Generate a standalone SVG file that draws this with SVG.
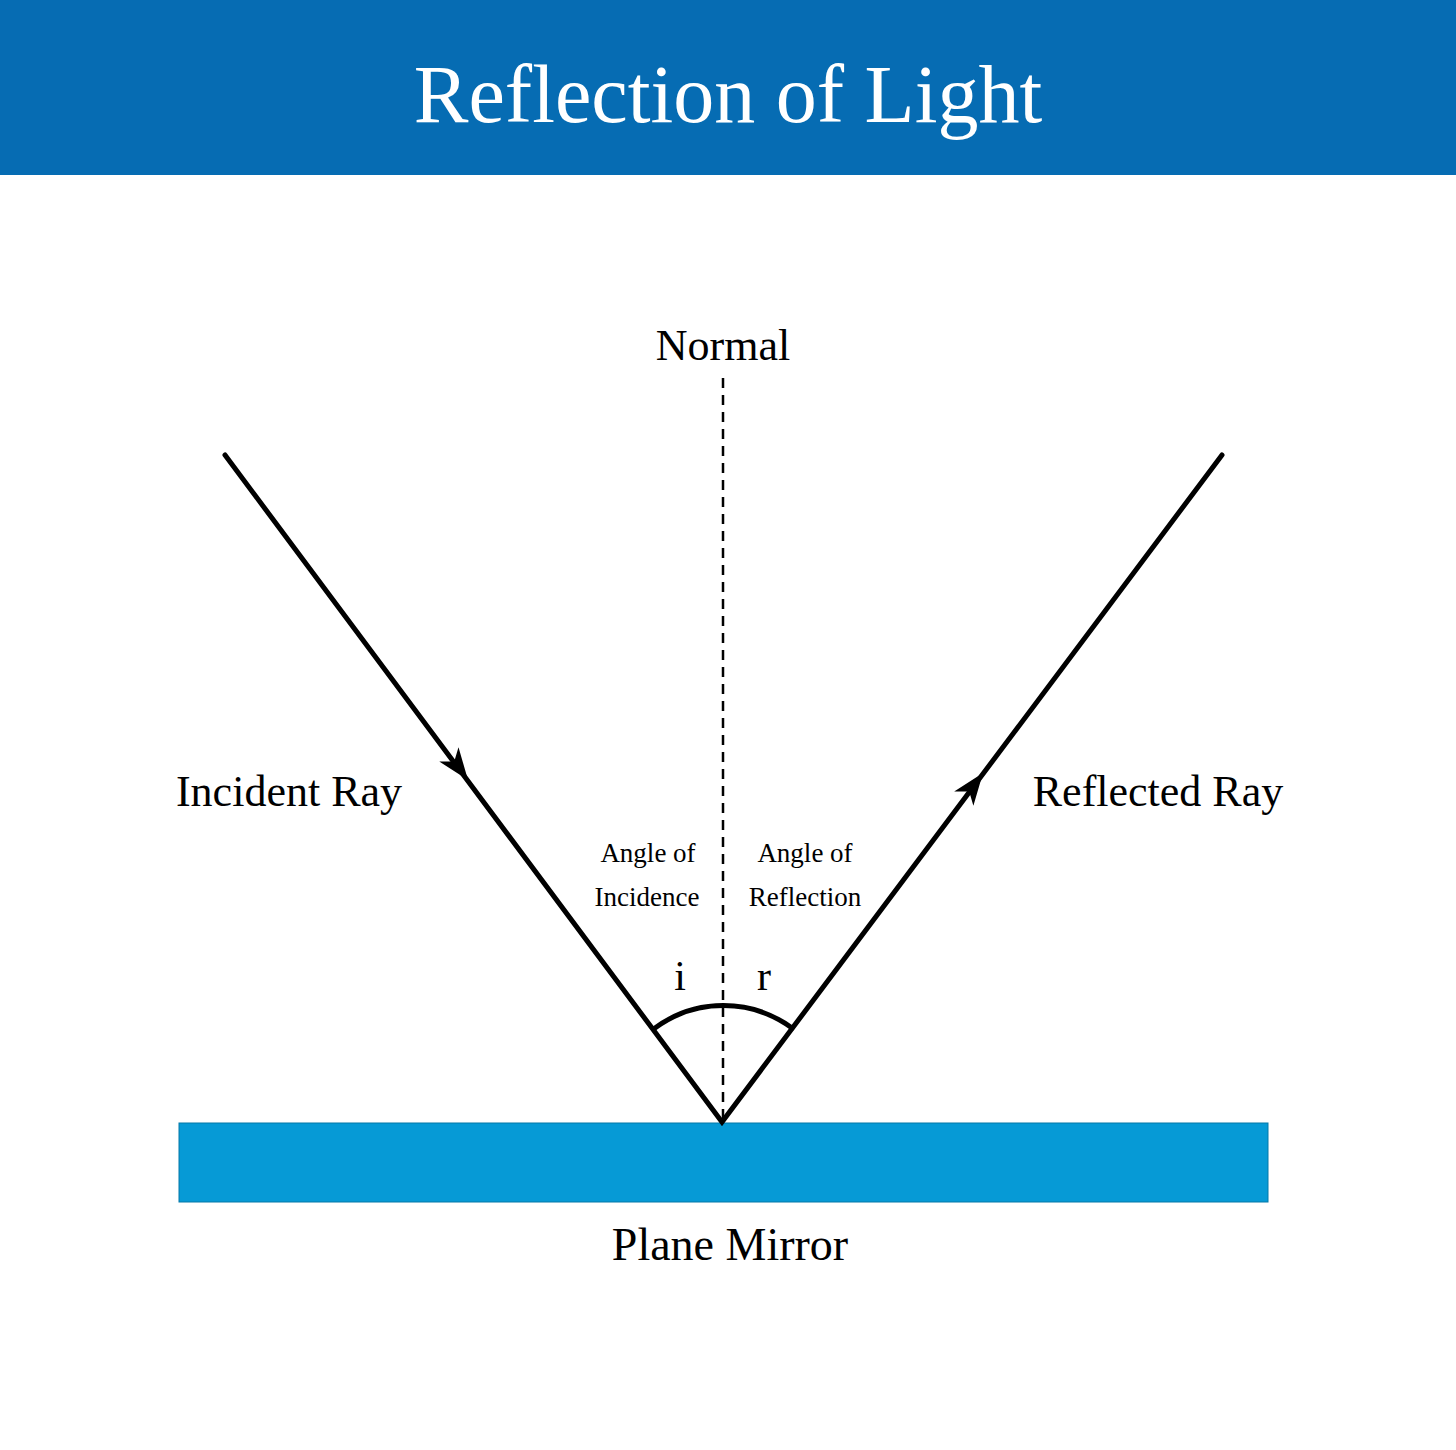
<svg xmlns="http://www.w3.org/2000/svg" width="1456" height="1450" viewBox="0 0 1456 1450">
<style>
text{font-family:"Liberation Serif","DejaVu Serif",serif;fill:#000;text-anchor:middle}
.ray{stroke:#000;stroke-width:5;fill:none;stroke-linecap:round}
</style>
<defs><path id="ah" d="M0,0 L-32,-12 L-23,0 L-32,12 Z" fill="#000"/></defs>
<rect width="1456" height="1450" fill="#fff"/>
<g id="header"><rect x="0" y="0" width="1456" height="175" fill="#066cb3"/>
<text x="728" y="122" font-size="82" style="fill:#fff">Reflection of Light</text></g>
<g id="mirror"><rect x="179" y="1123" width="1089" height="79" fill="#069ad6" stroke="#0578a8" stroke-width="1"/>
<text x="730" y="1260" font-size="46">Plane Mirror</text></g>
<g id="connectors">
<line x1="723" y1="378" x2="723" y2="1120" stroke="#000" stroke-width="2.5" stroke-dasharray="10,7"/>
<polyline class="ray" points="225,455 722,1122 1222,455"/>
<use href="#ah" transform="translate(468,780) rotate(53.3)"/>
<use href="#ah" transform="translate(983,773) rotate(-53.1)"/>
<path d="M655,1028 A116,116 0 0 1 792,1028" class="ray"/>
</g>
<g id="labels">
<text x="723" y="360" font-size="44">Normal</text>
<text x="289" y="806" font-size="44">Incident Ray</text>
<text x="1158" y="806" font-size="44">Reflected Ray</text>
<text x="648" y="862" font-size="27">Angle of</text>
<text x="647" y="906" font-size="27">Incidence</text>
<text x="805" y="862" font-size="27">Angle of</text>
<text x="805" y="906" font-size="27">Reflection</text>
<text x="680" y="990" font-size="42">i</text>
<text x="764" y="990" font-size="42">r</text>
</g>
</svg>
